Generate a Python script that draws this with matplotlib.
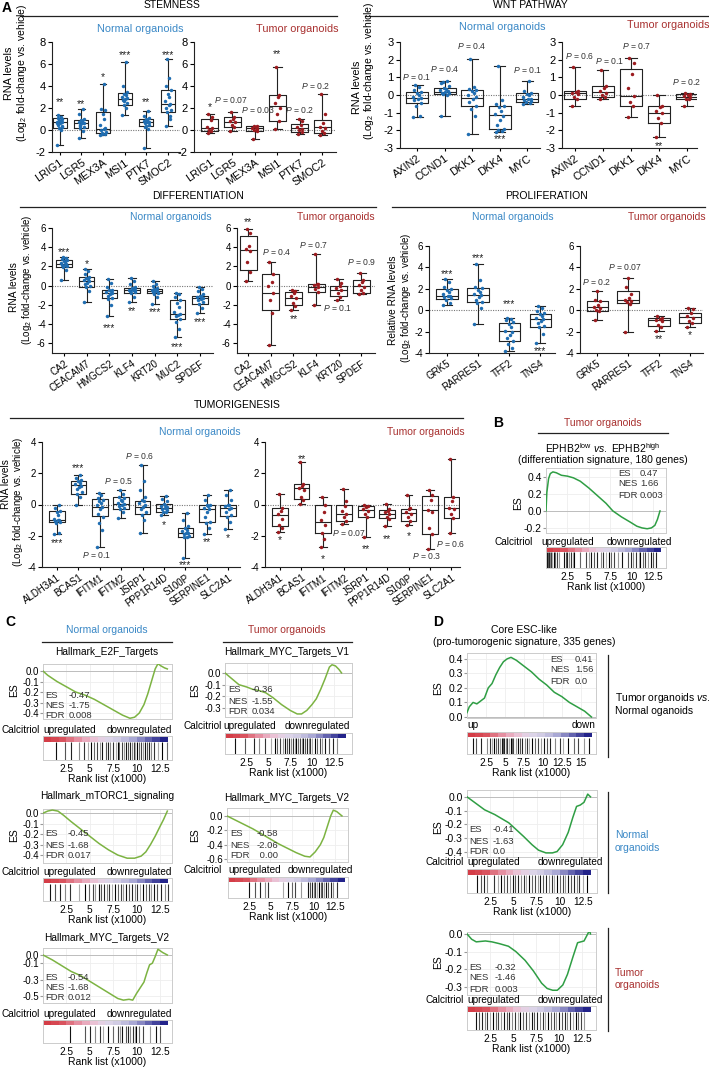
import matplotlib
matplotlib.use('Agg')
import matplotlib.pyplot as plt
import numpy as np
from matplotlib.lines import Line2D
from matplotlib.colors import LinearSegmentedColormap

plt.rcParams['font.family'] = ['Liberation Sans', 'DejaVu Sans']
plt.rcParams['mathtext.fontset'] = 'custom'
plt.rcParams['mathtext.rm'] = 'Liberation Sans'
plt.rcParams['mathtext.it'] = 'Liberation Sans:italic'
plt.rcParams['mathtext.bf'] = 'Liberation Sans:bold'

W, H = 709, 1069
fig = plt.figure(figsize=(W / 100, H / 100), dpi=100)

BLUE_TXT = '#3a88c6'
BLUE_PT = '#1f6db1'
RED_TXT = '#a8302f'
RED_PT = '#9b1b1f'
GREEN_D = '#2f9e44'
GREEN_C = '#7cb342'

# ------------------------------------------------------------------ DATA
genes_stem = ['LRIG1', 'LGR5', 'MEX3A', 'MSI1', 'PTK7', 'SMOC2']
box_stem_n = [[-1.4, 0.2, 0.7, 1.1, 1.4], [-0.7, 0.2, 0.6, 0.95, 1.9], [-0.45, -0.3, 0.1, 1.65, 4.15],
              [1.4, 2.25, 2.8, 3.35, 6.15], [-1.6, 0.4, 0.7, 1.0, 1.7], [0.4, 1.65, 2.4, 3.6, 6.5]]
pts_stem_n = [[-1.4, 0.0, 0.2, 0.4, 0.5, 0.6, 0.7, 0.7, 0.8, 0.9, 1.0, 1.1, 1.2, 1.4, 0.3, 0.6],
              [-0.7, -0.1, 0.2, 0.3, 0.5, 0.6, 0.6, 0.7, 0.8, 0.9, 1.0, 1.5, 1.9, 0.4],
              [-0.45, -0.4, -0.3, -0.2, 0.0, 0.1, 0.2, 0.5, 1.0, 1.5, 1.8, 1.9, 4.15, -0.35],
              [1.4, 2.0, 2.3, 2.5, 2.7, 2.8, 2.9, 3.0, 3.2, 3.3, 3.5, 4.0, 6.15, 2.6],
              [-1.6, 0.1, 0.4, 0.5, 0.6, 0.7, 0.7, 0.8, 0.9, 1.0, 1.1, 1.3, 1.7, 0.3],
              [0.4, 1.0, 1.6, 1.8, 2.0, 2.3, 2.4, 2.6, 3.0, 3.3, 3.6, 4.0, 4.7, 6.5, 1.3]]
ann_stem_n = [(0, '**', 2.8), (1, '**', 2.55), (2, '*', 5.0), (3, '***', 7.0), (4, '**', 2.8), (5, '***', 7.0)]
box_stem_t = [[-0.3, -0.05, 0.2, 1.0, 1.5], [-0.05, 0.3, 0.75, 1.2, 1.6], [-0.8, -0.1, 0.2, 0.35, 0.4],
              [0.1, 0.85, 2.2, 3.15, 5.7], [-0.35, -0.2, 0.2, 0.55, 1.0], [-0.45, -0.3, 0.25, 0.95, 3.25]]
pts_stem_t = [[-0.3, -0.1, 0.0, 0.2, 0.3, 0.9, 1.2, 1.5], [-0.05, 0.3, 0.5, 0.7, 0.8, 1.0, 1.2, 1.6],
              [-0.8, -0.1, 0.0, 0.1, 0.2, 0.3, 0.35, 0.4], [0.1, 0.8, 1.5, 2.0, 2.5, 3.0, 3.2, 5.7],
              [-0.35, -0.2, 0.0, 0.1, 0.3, 0.5, 0.8, 1.0], [-0.45, -0.3, -0.1, 0.2, 0.3, 0.6, 1.5, 3.25]]
ann_stem_t = [(0, '*', 2.3), (0.95, 'P = 0.07', 2.7), (2.15, 'P = 0.03', 1.85), (3, '**', 7.1),
              (4, 'P = 0.2', 1.8), (4.7, 'P = 0.2', 4.0)]

genes_wnt = ['AXIN2', 'CCND1', 'DKK1', 'DKK4', 'MYC']
box_wnt_n = [[-1.25, -0.45, -0.15, 0.15, 0.55], [-1.2, 0.05, 0.15, 0.4, 0.8], [-2.2, -0.65, -0.15, 0.3, 2.05],
             [-2.1, -1.95, -1.15, -0.6, 1.65], [-0.5, -0.4, -0.2, 0.1, 0.8]]
pts_wnt_n = [[-1.25, -1.2, -0.6, -0.45, -0.3, -0.2, -0.15, -0.1, 0.0, 0.1, 0.15, 0.3, 0.45, 0.55],
             [-1.2, 0.0, 0.05, 0.1, 0.1, 0.15, 0.2, 0.3, 0.35, 0.4, 0.5, 0.7, 0.8, 0.75],
             [-2.2, -1.2, -0.8, -0.6, -0.4, -0.2, -0.1, 0.0, 0.1, 0.2, 0.3, 0.35, 0.45, 2.05],
             [-2.1, -2.05, -2.0, -1.9, -1.7, -1.4, -1.2, -1.1, -0.9, -0.7, -0.6, -0.5, -0.3, 1.65],
             [-0.5, -0.45, -0.4, -0.35, -0.3, -0.25, -0.2, -0.1, 0.0, 0.05, 0.1, 0.2, 0.8]]
ann_wnt_n = [(0, 'P = 0.1', 1.0), (1, 'P = 0.4', 1.48), (2, 'P = 0.4', 2.75), (3, '***', -2.37), (4, 'P = 0.1', 1.42)]
box_wnt_t = [[-0.6, -0.25, 0.1, 0.25, 1.6], [-0.2, -0.1, 0.15, 0.5, 1.4], [-1.25, -0.6, -0.05, 1.5, 2.1],
             [-2.4, -1.6, -1.0, -0.65, 0.0], [-0.6, -0.25, -0.1, 0.05, 0.1]]
pts_wnt_t = [[-0.6, -0.25, -0.1, 0.05, 0.1, 0.15, 0.25, 1.6], [-0.2, -0.1, 0.0, 0.1, 0.2, 0.4, 0.5, 1.4],
             [-1.25, -0.6, -0.4, -0.05, 0.4, 1.2, 1.8, 2.1], [-2.4, -1.6, -1.3, -1.0, -0.9, -0.7, -0.6, 0.0],
             [-0.6, -0.25, -0.2, -0.1, -0.05, 0.0, 0.05, 0.1]]
ann_wnt_t = [(0.18, 'P = 0.6', 2.18), (1.25, 'P = 0.1', 1.94), (2.2, 'P = 0.7', 2.75), (3, '**', -2.75), (4, 'P = 0.2', 0.76)]

genes_diff_n = ['CA2', 'CEACAM7', 'HMGCS2', 'KLF4', 'KRT20', 'MUC2', 'SPDEF']
box_diff_n = [[0.6, 1.9, 2.3, 2.7, 3.0], [-1.7, -0.1, 0.5, 0.9, 1.75], [-3.2, -1.3, -0.8, -0.5, 0.7],
              [-1.7, -0.75, -0.5, -0.25, 0.85], [-1.9, -0.8, -0.6, -0.3, 0.45], [-5.35, -3.5, -2.9, -1.5, -0.8],
              [-2.8, -1.9, -1.3, -1.05, -0.1]]
pts_diff_n = [[0.6, 1.6, 1.9, 2.0, 2.1, 2.2, 2.3, 2.4, 2.5, 2.6, 2.7, 2.8, 2.9, 3.0],
              [-1.7, -0.6, -0.1, 0.0, 0.2, 0.3, 0.5, 0.6, 0.7, 0.8, 0.9, 1.2, 1.5, 1.75],
              [-3.2, -2.0, -1.4, -1.3, -1.1, -0.9, -0.8, -0.7, -0.6, -0.5, -0.4, -0.1, 0.3, 0.7],
              [-1.7, -1.2, -0.8, -0.7, -0.6, -0.5, -0.5, -0.4, -0.3, -0.25, -0.1, 0.2, 0.5, 0.85],
              [-1.9, -1.2, -0.9, -0.8, -0.7, -0.6, -0.6, -0.5, -0.4, -0.3, -0.2, 0.0, 0.2, 0.45],
              [-5.35, -4.5, -3.8, -3.5, -3.2, -3.0, -2.9, -2.7, -2.2, -1.8, -1.5, -1.2, -0.9, -0.8],
              [-2.8, -2.3, -1.9, -1.7, -1.5, -1.4, -1.3, -1.2, -1.1, -1.05, -0.9, -0.6, -0.3, -0.1]]
ann_diff_n = [(0, '***', 3.72), (1, '*', 2.5), (2, '***', -4.1), (3, '**', -2.37), (4, '***', -2.47),
              (5, '***', -6.1), (6, '***', -3.5)]
genes_diff_t = ['CA2', 'CEACAM7', 'HMGCS2', 'KLF4', 'KRT20', 'SPDEF']
box_diff_t = [[0.5, 1.65, 3.7, 5.2, 5.9], [-6.2, -2.5, -0.8, 1.2, 2.5], [-2.5, -2.05, -1.3, -0.7, -0.5],
              [-2.0, -0.7, -0.1, 0.2, 3.3], [-1.5, -1.1, -0.4, 0.0, 0.65], [-0.9, -0.8, 0.0, 0.6, 1.3]]
pts_diff_t = [[0.5, 1.4, 2.5, 3.6, 3.8, 4.1, 5.5, 5.9], [-6.2, -2.8, -1.5, -0.8, 0.0, 0.4, 1.2, 2.5],
              [-2.5, -2.1, -1.8, -1.3, -1.1, -0.8, -0.6, -0.5], [-2.0, -0.7, -0.3, -0.1, 0.1, 0.2, 0.2, 3.3],
              [-1.5, -1.2, -0.8, -0.4, -0.2, 0.0, 0.3, 0.65], [-0.9, -0.8, -0.5, -0.1, 0.1, 0.4, 0.6, 1.3]]
ann_diff_t = [(0, '**', 6.85), (1.26, 'P = 0.4', 3.55), (2, '**', -3.23), (2.9, 'P = 0.7', 4.2),
              (3.95, 'P = 0.1', -2.36), (5.0, 'P = 0.9', 2.5)]

genes_prol = ['GRK5', 'RARRES1', 'TFF2', 'TNS4']
box_prol_n = [[0.5, 1.05, 1.3, 2.0, 2.9], [-1.25, 0.75, 1.4, 2.1, 4.35], [-3.8, -2.9, -1.9, -1.15, -0.75],
              [-3.1, -1.55, -0.8, -0.35, 0.35]]
pts_prol_n = [[0.5, 0.7, 1.0, 1.1, 1.2, 1.3, 1.3, 1.5, 1.7, 1.9, 2.0, 2.2, 2.6, 2.9],
              [-1.25, 0.2, 0.7, 0.8, 1.0, 1.2, 1.4, 1.5, 1.7, 1.9, 2.1, 2.2, 2.8, 4.35],
              [-3.8, -3.5, -3.2, -2.9, -2.6, -2.3, -2.0, -1.9, -1.6, -1.3, -1.1, -0.9, -0.8, -0.75],
              [-3.1, -2.2, -1.6, -1.5, -1.2, -1.0, -0.8, -0.7, -0.5, -0.4, -0.3, -0.1, 0.2, 0.35]]
ann_prol_n = [(0, '***', 3.58), (1, '***', 5.1), (2, '***', 0.78), (3, '***', -3.6)]
box_prol_t = [[-0.9, -0.1, 0.3, 0.9, 1.75], [-2.0, 0.65, 1.0, 1.75, 3.0], [-1.9, -1.5, -0.9, -0.75, -0.5],
              [-1.55, -1.15, -0.6, -0.3, 0.25]]
pts_prol_t = [[-0.9, -0.1, 0.0, 0.2, 0.3, 0.5, 0.9, 1.0, 1.75], [-2.0, 0.6, 0.8, 0.9, 1.0, 1.1, 1.5, 2.2, 3.0],
              [-1.9, -1.6, -1.4, -1.0, -0.9, -0.8, -0.7, -0.5], [-1.55, -1.2, -1.0, -0.7, -0.5, -0.3, 0.1, 0.25]]
ann_prol_t = [(0, 'P = 0.2', 2.6), (0.9, 'P = 0.07', 4.0), (2, '**', -2.5), (3, '*', -2.1)]

genes_tum = ['ALDH3A1', 'BCAS1', 'IFITM1', 'IFITM2', 'JSRP1', 'PPP1R14D', 'S100P', 'SERPINE1', 'SLC2A1']
box_tum_n = [[-1.9, -1.1, -1.0, -0.4, -0.05], [0.0, 0.7, 1.25, 1.5, 1.9], [-2.75, -0.75, -0.15, 0.35, 0.75],
             [-0.85, -0.3, 0.05, 0.45, 0.9], [-1.8, -0.6, -0.15, 0.25, 2.55], [-0.7, -0.5, -0.2, 0.05, 0.55],
             [-3.4, -2.05, -1.85, -1.5, -0.55], [-1.9, -1.1, -0.3, -0.05, 0.6], [-1.55, -0.75, -0.2, -0.05, 0.95]]
pts_tum_n = [[-1.9, -1.85, -1.2, -1.1, -1.05, -1.0, -1.0, -0.9, -0.7, -0.5, -0.4, -0.2, -0.05],
             [0.0, 0.5, 0.7, 0.8, 1.0, 1.1, 1.2, 1.3, 1.4, 1.5, 1.6, 1.7, 1.9],
             [-2.75, -1.6, -1.2, -0.8, -0.6, -0.3, -0.15, 0.0, 0.1, 0.2, 0.3, 0.4, 0.6, 0.75],
             [-0.85, -0.5, -0.3, -0.2, -0.1, 0.0, 0.05, 0.1, 0.2, 0.3, 0.4, 0.5, 0.7, 0.9],
             [-1.8, -1.0, -0.7, -0.5, -0.3, -0.15, 0.0, 0.1, 0.2, 0.3, 0.5, 0.9, 1.5, 2.55],
             [-0.7, -0.5, -0.45, -0.35, -0.3, -0.2, -0.15, -0.1, 0.0, 0.05, 0.2, 0.35, 0.55],
             [-3.4, -2.1, -2.05, -2.0, -1.9, -1.85, -1.8, -1.7, -1.6, -1.5, -1.4, -1.0, -0.55],
             [-1.9, -1.5, -1.2, -1.1, -0.8, -0.5, -0.3, -0.25, -0.1, -0.05, 0.0, 0.3, 0.6],
             [-1.55, -1.1, -0.8, -0.7, -0.5, -0.3, -0.2, -0.1, -0.05, 0.0, 0.3, 0.6, 0.95]]
ann_tum_n = [(0, '***', -2.3), (1, '***', 2.5), (1.87, 'P = 0.1', -3.2), (2.86, 'P = 0.5', 1.5),
             (3.85, 'P = 0.6', 3.13), (5, '*', -1.13), (6, '***', -3.7), (7, '**', -2.26), (8, '*', -2.0)]
box_tum_t = [[-1.75, -1.35, -0.65, -0.2, 0.65], [0.05, 0.35, 1.05, 1.3, 2.7], [-2.75, -1.8, -1.1, 0.0, 0.5],
             [-1.25, -1.05, -0.6, -0.05, 1.0], [-2.1, -0.8, -0.35, -0.1, -0.05], [-1.4, -0.85, -0.6, -0.35, 0.05],
             [-1.3, -1.05, -0.55, -0.3, 0.6], [-2.85, -1.9, -0.35, 0.55, 0.9], [-1.8, -0.85, -0.25, 0.45, 2.9]]
pts_tum_t = [[-1.75, -1.5, -1.3, -0.9, -0.6, -0.4, -0.2, 0.65], [0.05, 0.3, 0.5, 0.9, 1.05, 1.2, 1.3, 2.7],
             [-2.75, -2.2, -1.8, -1.3, -1.0, -0.5, 0.0, 0.5], [-1.25, -1.05, -0.8, -0.6, -0.4, -0.1, 0.2, 1.0],
             [-2.1, -0.8, -0.6, -0.4, -0.3, -0.15, -0.1, -0.05], [-1.4, -0.9, -0.8, -0.6, -0.5, -0.4, -0.3, 0.05],
             [-1.3, -1.05, -0.8, -0.6, -0.5, -0.3, -0.2, 0.6], [-2.85, -1.9, -1.5, -0.5, -0.35, 0.3, 0.6, 0.9],
             [-1.8, -0.85, -0.6, -0.3, -0.2, 0.2, 0.5, 2.9]]
ann_tum_t = [(0, '*', -2.1), (1, '**', 3.1), (2, '*', -3.3), (3.2, 'P = 0.07', -1.84), (4, '**', -2.7),
             (5, '**', -2.05), (6, '*', -1.84), (6.85, 'P = 0.3', -3.3), (7.95, 'P = 0.6', -2.5)]

# GSEA running enrichment scores (rank in x1000, ES)
b_x = [0, 0.1, 0.3, 0.5, 0.8, 1.2, 1.8, 2.5, 3.2, 4.0, 5.0, 6.0, 7.0, 7.8, 8.8, 9.8, 10.6, 11.2, 11.8, 12.3, 12.7, 13.0, 13.3]
b_y = [0, 0.22, 0.38, 0.44, 0.46, 0.45, 0.42, 0.41, 0.39, 0.35, 0.27, 0.18, 0.09, 0.0, -0.07, -0.13, -0.18, -0.2, -0.21, -0.2, -0.17, -0.1, 0.0]
b_hits = [0.1, 0.2, 0.35, 0.5, 0.6, 0.75, 0.9, 1.1, 1.3, 1.5, 2.1, 2.3, 2.5, 2.7, 2.9, 3.1, 3.3, 4.0, 4.7, 5.0, 5.3, 5.6,
          5.9, 6.4, 6.7, 7.0, 7.3, 7.6, 7.9, 8.4, 8.9, 9.6, 9.9, 10.2, 10.5, 10.8, 11.0, 11.3, 11.6, 11.9, 12.2, 12.5, 12.8]

c1_x = [0, 0.5, 1.5, 2.5, 3.5, 4.5, 5.5, 6.5, 7.5, 8.5, 9.3, 9.8, 10.3, 10.8, 11.2, 11.6, 12.0, 12.3, 12.6, 13.0, 13.3]
c1_y = [0, -0.04, -0.1, -0.15, -0.2, -0.23, -0.27, -0.32, -0.37, -0.42, -0.45, -0.44, -0.4, -0.32, -0.22, -0.1, 0.02, 0.07, 0.05, 0.03, 0.02]
c1_hits = [1.4, 2.4, 3.0, 3.9, 4.4, 4.8, 5.1, 5.45, 5.8, 6.1, 6.35, 6.7, 7.0, 7.2, 7.5, 7.8, 8.0, 8.15, 8.5, 8.7, 8.9,
           9.05, 9.3, 9.5, 9.7, 9.85, 10.1, 10.3, 10.5, 10.7, 10.95, 11.1, 11.3, 11.6, 11.9, 12.3, 12.7, 13.3]

c2_x = [0, 0.8, 1.6, 2.5, 3.2, 3.9, 4.7, 5.5, 6.5, 7.5, 8.3, 8.8, 9.4, 10.0, 10.5, 11.0, 11.5, 12.0, 12.3, 12.7, 13.1, 13.4]
c2_y = [0, -0.05, -0.1, -0.12, -0.14, -0.15, -0.17, -0.21, -0.27, -0.32, -0.35, -0.35, -0.32, -0.27, -0.22, -0.14, -0.05, 0.05, 0.07, 0.06, 0.03, 0.0]
c2_hits = [1.2, 2.3, 3.3, 3.9, 4.6, 5.3, 5.7, 6.0, 6.3, 6.65, 6.9, 7.1, 7.4, 7.6, 7.8, 8.05, 8.2, 8.4, 8.65, 8.8, 9.0,
           9.2, 9.45, 9.6, 9.8, 10.0, 10.3, 10.6, 10.9, 11.2, 11.5, 11.9, 12.4, 12.9]

c3_x = [0, 0.5, 1.0, 1.6, 2.2, 3.0, 4.0, 5.0, 6.0, 7.0, 8.0, 9.0, 9.8, 10.5, 11.0, 11.5, 12.0, 12.5, 12.9, 13.2, 13.3]
c3_y = [0, 0.02, 0.03, 0.02, -0.02, -0.08, -0.15, -0.22, -0.29, -0.35, -0.4, -0.43, -0.43, -0.41, -0.37, -0.3, -0.22, -0.13, -0.06, 0.0, 0.02]
c3_hits = [0.8, 1.3, 1.8, 2.4, 2.9, 3.9, 4.5, 4.9, 5.3, 5.6, 5.95, 6.2, 6.5, 6.8, 7.1, 7.4, 7.7, 8.0, 8.3, 8.55, 8.9,
           9.2, 9.5, 9.8, 10.1, 10.4, 10.7, 11.0, 11.3, 11.6, 11.9, 12.2, 12.6, 13.0, 13.4]

c4_x = [0, 1, 2, 3, 4, 5, 6, 7, 8, 9, 9.6, 10.2, 10.8, 11.2, 11.6, 12.0, 12.3, 12.7, 13.0, 13.3]
c4_y = [0, -0.06, -0.12, -0.18, -0.25, -0.32, -0.39, -0.45, -0.51, -0.56, -0.57, -0.5, -0.4, -0.3, -0.15, 0.0, 0.08, 0.06, 0.03, 0.0]
c4_hits = [2.4, 3.1, 3.7, 4.3, 4.7, 6.4, 7.0, 7.5, 7.8, 8.5, 9.3, 9.6, 9.8, 10.0, 10.2, 10.4, 10.6, 10.8, 11.0,
           11.2, 11.4, 11.7, 12.0, 12.3, 12.7]

c5_x = [0, 1, 2, 3, 4, 5, 6, 7, 8, 8.6, 9.2, 9.6, 10.0, 10.4, 10.8, 11.1, 11.4, 11.7, 12.0, 12.3, 12.8, 13.3]
c5_y = [0, -0.06, -0.13, -0.2, -0.25, -0.32, -0.39, -0.46, -0.53, -0.55, -0.54, -0.55, -0.47, -0.4, -0.33, -0.22, -0.12, -0.1, -0.02, 0.07, 0.03, 0.0]
c5_hits = [2.9, 4.5, 5.0, 5.55, 6.1, 6.4, 6.95, 7.5, 8.0, 8.2, 8.4, 8.9, 9.1, 9.3, 9.6, 9.8, 10.0, 10.3, 10.7, 11.4, 12.1, 12.5]

d1_x = [0, 0.3, 0.8, 1.3, 1.8, 2.3, 2.8, 3.3, 3.8, 4.3, 4.8, 5.3, 5.8, 6.5, 7.5, 8.5, 9.5, 10.5, 11.5, 12.5, 13.5, 14.5, 15.5, 16.4]
d1_y = [0.03, 0.07, 0.1, 0.09, 0.11, 0.13, 0.2, 0.23, 0.29, 0.34, 0.38, 0.4, 0.41, 0.39, 0.35, 0.31, 0.26, 0.22, 0.17, 0.14, 0.1, 0.07, 0.04, 0.0]
d1_hits = [0.8, 1.2, 1.9, 2.6, 3.0, 3.3, 3.6, 3.85, 4.1, 4.3, 4.55, 4.7, 4.9, 5.15, 5.3, 5.5, 5.75, 5.9, 6.1, 6.4,
           6.7, 7.0, 7.3, 7.6, 7.9, 8.2, 8.5, 8.9, 9.3, 9.7, 10.1, 10.5, 11.0, 11.6, 12.2, 12.7, 13.3, 14.1, 14.6, 15.4, 16.1]

d2_x = [0, 1, 1.9, 3.0, 4.5, 5.3, 6.1, 7.0, 7.7, 8.5, 9.2, 9.7, 10.3, 10.9, 11.4, 11.8, 12.2, 12.6, 13.0, 13.3]
d2_y = [0, -0.05, -0.095, -0.13, -0.19, -0.24, -0.29, -0.35, -0.39, -0.41, -0.41, -0.4, -0.35, -0.26, -0.15, -0.07, -0.06, -0.04, 0.02, 0.0]
d2_hits = [1.1, 1.5, 1.8, 2.2, 2.9, 3.3, 3.7, 4.0, 4.3, 4.6, 4.9, 5.2, 5.5, 5.85, 6.1, 6.4, 6.7, 7.0, 7.3, 7.6, 7.9,
           8.2, 8.5, 8.8, 9.1, 9.4, 9.7, 10.0, 10.3, 10.6, 10.9, 11.2, 11.5, 11.8, 12.1, 12.5, 12.9]

d3_x = [0, 0.5, 1.0, 2.0, 2.7, 3.5, 4.5, 5.3, 6.3, 7.2, 8.1, 8.7, 9.3, 9.8, 10.4, 10.9, 11.5, 12.0, 12.7, 13.1, 13.3, 13.4]
d3_y = [0, -0.03, -0.045, -0.04, -0.045, -0.055, -0.07, -0.1, -0.15, -0.21, -0.28, -0.31, -0.32, -0.32, -0.29, -0.23, -0.13, -0.05, -0.04, 0.0, 0.02, 0.0]
d3_hits = [1.0, 1.3, 1.6, 1.9, 2.2, 2.5, 2.8, 3.1, 3.4, 3.7, 4.0, 4.3, 4.6, 4.9, 5.2, 5.5, 5.8, 6.1, 6.4, 6.7, 7.0,
           7.3, 7.6, 7.9, 8.2, 8.5, 8.8, 9.1, 9.4, 9.7, 10.0, 10.3, 10.6, 10.9, 11.2, 11.5, 11.8, 12.1, 12.4, 12.7]

rank_ticks = [2.5, 5, 7.5, 10, 12.5]
rank_ticks_d1 = [2.5, 5, 7.5, 10, 12.5, 15]


# ------------------------------------------------------------------ HELPERS
def fx(x):
    return x / W


def fy(y):
    return 1 - y / H


def axpx(l, t, r, b):
    return fig.add_axes([fx(l), fy(b), (r - l) / W, (b - t) / H])


def txt(x, y, s, **kw):
    kw.setdefault('ha', 'center')
    kw.setdefault('va', 'center')
    fig.text(fx(x), fy(y), s, **kw)


def hline(x0, x1, y, lw=0.9, color='#222222'):
    fig.add_artist(Line2D([fx(x0), fx(x1)], [fy(y), fy(y)], lw=lw, color=color))


def vline(x, y0, y1, lw=0.9, color='#222222'):
    fig.add_artist(Line2D([fx(x), fx(x)], [fy(y0), fy(y1)], lw=lw, color=color))


def fmt(v):
    return ('%g' % v)


JIT_N = [-0.18, 0.12, -0.06, 0.2, -0.12, 0.04, 0.16, -0.2, 0.08, -0.02, 0.18, -0.14, 0.1, -0.08, 0.14, -0.16]
JIT_T = [-0.12, 0.1, -0.04, 0.14, -0.15, 0.05, 0.12, -0.08, 0.0]


def box_panel(rect, genes, box, pts, anns, ylim, yticks, xlim, color, jit, width=0.7, fs=7, gfs=7):
    ax = axpx(*rect)
    stats = [dict(whislo=b[0], q1=b[1], med=b[2], q3=b[3], whishi=b[4], fliers=[]) for b in box]
    lp = dict(color='#222222', lw=0.8)
    ax.bxp(stats, positions=list(range(len(genes))), widths=width, capwidths=width * 0.5,
           showfliers=False, boxprops=lp, whiskerprops=lp, capprops=lp, medianprops=lp,
           manage_ticks=False, zorder=2)
    ax.axhline(0, ls=(0, (1, 1.2)), color='#777777', lw=0.8, zorder=1)
    for i, p in enumerate(pts):
        xs = [i + jit[k % len(jit)] * width for k in range(len(p))]
        ax.plot(xs, p, 'o', ms=2.5, color=color, mec='none', zorder=3, clip_on=False)
    for (xi, s, y) in anns:
        if s.startswith('P'):
            ax.text(xi, y, r'$P$' + s[1:], ha='center', va='center', fontsize=6.2, color='#333333', clip_on=False)
        else:
            ax.annotate(s, (xi, y), xytext=(0, -4), textcoords='offset points', ha='center',
                        va='baseline', fontsize=7.5, color='#222222', annotation_clip=False)
    for sp in ['top', 'right']:
        ax.spines[sp].set_visible(False)
    for sp in ['left', 'bottom']:
        ax.spines[sp].set_linewidth(0.8)
        ax.spines[sp].set_color('#222222')
    ax.set_xlim(xlim)
    ax.set_ylim(ylim)
    ax.set_yticks(yticks)
    ax.set_yticklabels([fmt(v) for v in yticks])
    ax.set_xticks(list(range(len(genes))))
    ax.set_xticklabels(genes, rotation=35, ha='right', rotation_mode='anchor', fontsize=gfs)
    ax.tick_params(axis='y', labelsize=fs, length=3, width=0.8, pad=1.5)
    ax.tick_params(axis='x', length=2.5, width=0.8, pad=1.5)
    return ax


cmap_rank = LinearSegmentedColormap.from_list('rank', ['#d43d47', '#d9505a', '#e4899a', '#ecbdd0', '#e2d8ea',
                                                       '#cdcae3', '#a4a3d2', '#5f5fac', '#23238a'])
SHADES = ['#111111', '#555555', '#222222', '#8a8a8a', '#333333', '#aaaaaa', '#000000', '#666666', '#444444', '#999999']


def gsea(crect, brect, xs, ys, hits, xlim, ylim, yticks, color, strip_end, xt,
         stat_lab_x, stat_val_x, stat_ys, stat_vals, yfs=7.0):
    ax = axpx(*crect)
    ax.plot(xs, ys, color=color, lw=1.1, zorder=3)
    ax.axhline(0, color='#bdbdbd', lw=0.7, zorder=2)
    ax.set_xlim(xlim)
    ax.set_ylim(ylim)
    ax.set_xticks(xt)
    ax.set_xticklabels([])
    ax.set_yticks(yticks)
    ax.set_yticklabels(['%.1f' % v if v != 0 else '0.0' for v in yticks])
    ax.grid(True, color='#eeeeee', lw=0.6)
    ax.set_axisbelow(True)
    ax.tick_params(axis='x', length=0)
    ax.tick_params(axis='y', labelsize=yfs, length=2, color='#999999', pad=1)
    for sp in ax.spines.values():
        sp.set_color('#cccccc')
        sp.set_linewidth(0.7)
    for lab, y, v in zip(['ES', 'NES', 'FDR'], stat_ys, stat_vals):
        txt(stat_lab_x, y, lab, ha='left', fontsize=6.8, color='#333333')
        txt(stat_val_x, y, v, ha='left', fontsize=6.8, color='#333333')

    bx = axpx(*brect)
    grad = np.linspace(0, 1, 16).reshape(1, -1)
    bx.imshow(grad, aspect='auto', cmap=cmap_rank, extent=(xlim[0], strip_end, 0.77, 1.0),
              interpolation='nearest', zorder=1)
    cols = [SHADES[k % len(SHADES)] for k in range(len(hits))]
    bx.vlines(hits, 0.02, 0.75, colors=cols, lw=0.8, zorder=2)
    bx.set_xlim(xlim)
    bx.set_ylim(0, 1)
    bx.set_yticks([])
    bx.set_xticks(xt)
    bx.set_xticklabels([fmt(v) for v in xt])
    bx.tick_params(axis='x', length=0, labelsize=7.3, pad=3)
    bx.set_xlabel('Rank list (x1000)', fontsize=7.5, labelpad=0)
    for sp in bx.spines.values():
        sp.set_color('#cccccc')
        sp.set_linewidth(0.7)
    return ax, bx


def calc_row(y, l, r, calc_x, up='upregulated', down='downregulated', calc='Calcitriol'):
    if calc:
        txt(calc_x, y, calc, ha='right', fontsize=7.2)
    txt(l, y, up, ha='left', fontsize=7.2)
    txt(r, y, down, ha='right', fontsize=7.2)


# ------------------------------------------------------------------ PANEL A
txt(7, 8, 'A', fontsize=10, fontweight='bold')
txt(172, 5, 'STEMNESS', fontsize=7.5)
hline(20, 337, 16)
txt(530, 5, 'WNT PATHWAY', fontsize=7.5)
hline(365, 709, 16)
txt(198, 196, 'DIFFERENTIATION', fontsize=7.5)
hline(20, 376, 207)
txt(547, 196, 'PROLIFERATION', fontsize=7.5)
hline(392, 705, 207)
txt(237, 405, 'TUMORIGENESIS', fontsize=7.5)
hline(10, 463, 418)

# STEMNESS
txt(140, 29, 'Normal organoids', color=BLUE_TXT, fontsize=7.8)
txt(297, 29, 'Tumor organoids', color=RED_TXT, fontsize=7.8)
txt(9, 73, 'RNA levels', rotation=90, fontsize=7.8)
txt(22, 73, r'(Log$_2$ fold-change vs. vehicle)', rotation=90, fontsize=7.5)
box_panel((52, 42, 180, 152), genes_stem, box_stem_n, pts_stem_n, ann_stem_n, (-2, 8), [-2, 0, 2, 4, 6, 8],
          (-0.35, 5.55), BLUE_PT, JIT_N, width=0.64, fs=8, gfs=7.8)
box_panel((194, 42, 336, 152), genes_stem, box_stem_t, pts_stem_t, ann_stem_t, (-2, 8), [-2, 0, 2, 4, 6, 8],
          (-0.7, 5.6), RED_PT, JIT_T, width=0.75, fs=8, gfs=7.8)

# WNT
txt(502, 27, 'Normal organoids', color=BLUE_TXT, fontsize=7.8)
txt(668, 25, 'Tumor organoids', color=RED_TXT, fontsize=7.8)
txt(357, 87, 'RNA levels', rotation=90, fontsize=7.8)
txt(369, 71, r'(Log$_2$ fold-change vs. vehicle)', rotation=90, fontsize=7.5)
box_panel((400, 42, 540, 148), genes_wnt, box_wnt_n, pts_wnt_n, ann_wnt_n, (-3, 3), [-3, -2, -1, 0, 1, 2, 3],
          (-0.62, 4.47), BLUE_PT, JIT_N, width=0.8, fs=8, gfs=7.8)
box_panel((562, 42, 697, 148), genes_wnt, box_wnt_t, pts_wnt_t, ann_wnt_t, (-3, 3), [-3, -2, -1, 0, 1, 2, 3],
          (-0.46, 4.36), RED_PT, JIT_T, width=0.8, fs=8, gfs=7.8)

# DIFFERENTIATION
txt(171, 217, 'Normal organoids', color=BLUE_TXT, fontsize=7.5)
txt(336, 217, 'Tumor organoids', color=RED_TXT, fontsize=7.5)
txt(14, 287, 'RNA levels', rotation=90, fontsize=7.3)
txt(27, 280, r'(Log$_2$ fold-change vs. vehicle)', rotation=90, fontsize=7.0)
box_panel((52, 228, 213, 353), genes_diff_n, box_diff_n, pts_diff_n, ann_diff_n, (-7, 6), [-6, -4, -2, 0, 2, 4, 6],
          (-0.53, 6.57), BLUE_PT, JIT_N, width=0.68)
box_panel((237, 228, 375, 353), genes_diff_t, box_diff_t, pts_diff_t, ann_diff_t, (-7, 6), [-6, -4, -2, 0, 2, 4, 6],
          (-0.49, 5.6), RED_PT, JIT_T, width=0.75)

# PROLIFERATION
txt(513, 217, 'Normal organoids', color=BLUE_TXT, fontsize=7.5)
txt(667, 217, 'Tumor organoids', color=RED_TXT, fontsize=7.5)
txt(393, 300, 'Relative RNA levels', rotation=90, fontsize=7.3)
txt(406, 298, r'(Log$_2$ fold-change vs. vehicle)', rotation=90, fontsize=7.0)
box_panel((429, 246, 555, 353), genes_prol, box_prol_n, pts_prol_n, ann_prol_n, (-4, 6), [-4, -2, 0, 2, 4, 6],
          (-0.58, 3.48), BLUE_PT, JIT_N, width=0.68)
box_panel((580, 246, 703, 353), genes_prol, box_prol_t, pts_prol_t, ann_prol_t, (-4, 6), [-4, -2, 0, 2, 4, 6],
          (-0.55, 3.42), RED_PT, JIT_T, width=0.68)

# TUMORIGENESIS
txt(200, 432, 'Normal organoids', color=BLUE_TXT, fontsize=7.5)
txt(426, 432, 'Tumor organoids', color=RED_TXT, fontsize=7.5)
txt(6, 484, 'RNA levels', rotation=90, fontsize=7.3)
txt(18, 502, r'(Log$_2$ fold-change vs. vehicle)', rotation=90, fontsize=7.0)
box_panel((42, 442, 240, 567), genes_tum, box_tum_n, pts_tum_n, ann_tum_n, (-4, 4), [-4, -2, 0, 2, 4],
          (-0.7, 8.55), BLUE_PT, JIT_N, width=0.73)
box_panel((265, 442, 460, 567), genes_tum, box_tum_t, pts_tum_t, ann_tum_t, (-4, 4), [-4, -2, 0, 2, 4],
          (-0.7, 8.4), RED_PT, JIT_T, width=0.73)

# ------------------------------------------------------------------ PANEL B
txt(498, 423, 'B', fontsize=10, fontweight='bold')
txt(603, 423, 'Tumor organoids', color=RED_TXT, fontsize=7.5)
hline(538, 668, 433)
txt(603, 448, r'EPHB2$^{\mathrm{low}}$ $vs.$ EPHB2$^{\mathrm{high}}$', fontsize=7.5)
txt(603, 460, '(differentiation signature, 180 genes)', fontsize=7.5)
txt(518, 503, 'ES', rotation=90, fontsize=7.5)
gsea((546, 468, 666, 533), (546, 547, 666, 568), b_x, b_y, b_hits, (0, 14.0), (-0.26, 0.506),
     [-0.2, 0.0, 0.2, 0.4], GREEN_D, 13.4, rank_ticks,
     618, 640, [473, 484, 495], ['0.47', '1.66', '0.003'], yfs=7.5)
calc_row(542, 541, 672, 533)

# ------------------------------------------------------------------ PANEL C
txt(10, 622, 'C', fontsize=10, fontweight='bold')
txt(107, 630, 'Normal organoids', color=BLUE_TXT, fontsize=7.5)
hline(42, 172, 642)
txt(287, 630, 'Tumor organoids', color=RED_TXT, fontsize=7.5)
hline(223, 352, 642)

txt(107, 652, 'Hallmark_E2F_Targets', fontsize=7.3)
txt(14, 690, 'ES', rotation=90, fontsize=7.5)
gsea((43, 664, 172, 719), (43, 736, 172, 760), c1_x, c1_y, c1_hits, (0, 13.8), (-0.457, 0.067),
     [0, -0.1, -0.2, -0.3, -0.4], GREEN_C, 13.35,
     rank_ticks, 45, 69, [696, 706, 716], ['-0.47', '-1.75', '0.008'])
calc_row(730, 43, 172, 40)

txt(287, 652, 'Hallmark_MYC_Targets_V1', fontsize=7.3)
txt(195, 690, 'ES', rotation=90, fontsize=7.5)
gsea((225, 663, 352, 717), (225, 733, 352, 754), c2_x, c2_y, c2_hits, (0, 14.6), (-0.376, 0.085),
     [0, -0.1, -0.2, -0.3], GREEN_C, 13.8,
     rank_ticks, 228, 252, [690, 701, 712], ['-0.36', '-1.55', '0.034'])
calc_row(726, 223, 350, 222)

txt(107, 796, 'Hallmark_mTORC1_signaling', fontsize=7.3)
txt(14, 835, 'ES', rotation=90, fontsize=7.5)
gsea((43, 809, 172, 863), (43, 878, 172, 901), c3_x, c3_y, c3_hits, (0, 13.8), (-0.476, 0.04),
     [0, -0.1, -0.2, -0.3, -0.4], GREEN_C, 13.35,
     rank_ticks, 45, 68, [834, 845, 856], ['-0.45', '-1.68', '0.017'])
calc_row(872, 43, 172, 40)

txt(287, 798, 'Hallmark_MYC_Targets_V2', fontsize=7.3)
txt(195, 835, 'ES', rotation=90, fontsize=7.5)
gsea((227, 808, 348, 862), (228, 877, 348, 898), c4_x, c4_y, c4_hits, (0, 14.0), (-0.64, 0.11),
     [0, -0.2, -0.4, -0.6], GREEN_C, 13.6,
     rank_ticks, 230, 257, [834, 845, 855], ['-0.58', '-2.06', ' 0.00'])
calc_row(870, 228, 353, 222)

txt(107, 938, 'Hallmark_MYC_Targets_V2', fontsize=7.3)
gsea((43, 948, 172, 1003), (43, 1020, 172, 1043), c5_x, c5_y, c5_hits, (0, 13.8), (-0.585, 0.085),
     [0, -0.1, -0.3, -0.5], GREEN_C, 13.35,
     rank_ticks, 45, 68, [977, 988, 998], ['-0.54', '-1.68', '0.012'])
calc_row(1014, 43, 172, 40)

# ------------------------------------------------------------------ PANEL D
txt(438, 622, 'D', fontsize=10, fontweight='bold')
txt(524, 630, 'Core ESC-like', fontsize=7.5)
txt(524, 642, '(pro-tumorogenic signature, 335 genes)', fontsize=7.5)
txt(438, 688, 'ES', rotation=90, fontsize=7.5)
gsea((467, 653, 596, 718), (467, 732, 596, 754), d1_x, d1_y, d1_hits, (0, 17.0), (-0.007, 0.44),
     [0, 0.1, 0.2, 0.3, 0.4], GREEN_D, 16.4,
     rank_ticks_d1, 550, 575, [659, 670, 681], ['0.41', '1.56', '0.0'], yfs=7.5)
calc_row(725, 467, 596, 0, up='up', down='down', calc=None)
vline(608, 655, 757)
txt(615, 698, r'Tumor organoids $vs.$', ha='left', fontsize=7.5)
txt(615, 711, 'Normal oganoids', ha='left', fontsize=7.5)

txt(438, 827, 'ES', rotation=90, fontsize=7.5)
gsea((467, 790, 597, 857), (467, 869, 597, 893), d2_x, d2_y, d2_hits, (0, 14.0), (-0.44, 0.05),
     [0, -0.1, -0.2, -0.3, -0.4], GREEN_D, 13.35,
     rank_ticks, 469, 493, [830, 841, 851], ['-0.41', '-1.63', '0.0'], yfs=7.5)
calc_row(862, 467, 603, 464)
vline(608, 792, 893)
txt(615, 835, 'Normal', ha='left', fontsize=7.5, color=BLUE_TXT)
txt(615, 848, 'organoids', ha='left', fontsize=7.5, color=BLUE_TXT)

txt(438, 962, 'ES', rotation=90, fontsize=7.5)
gsea((467, 932, 596, 995), (467, 1006, 596, 1030), d3_x, d3_y, d3_hits, (0, 14.0), (-0.347, 0.011),
     [0, -0.1, -0.2, -0.3], GREEN_D, 13.35,
     rank_ticks, 469, 495, [967, 978, 989], ['-0.32', '-1.46', '0.003'], yfs=7.5)
calc_row(1000, 467, 603, 464)
vline(608, 928, 1031)
txt(615, 973, 'Tumor', ha='left', fontsize=7.5, color=RED_TXT)
txt(615, 985, 'organoids', ha='left', fontsize=7.5, color=RED_TXT)

fig.savefig('out.png', dpi=100)
